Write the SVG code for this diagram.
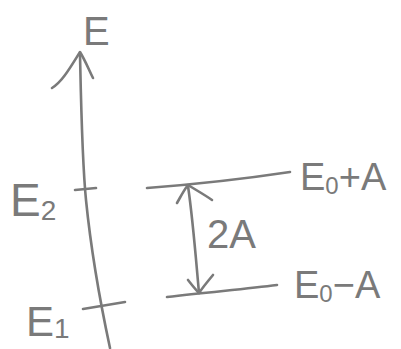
<svg xmlns="http://www.w3.org/2000/svg" width="401" height="349" viewBox="0 0 401 349">
<style>
.ln{fill:none;stroke:#7a7a7a;stroke-width:2.6;stroke-linecap:round;stroke-linejoin:round}
.tx{font-family:"Liberation Sans","DejaVu Sans",sans-serif;fill:#7a7a7a}
</style>
<rect width="401" height="349" fill="#ffffff"/>
<g id="axis">
<path class="ln" d="M110,348 C104,320 92,260 86,200 C82,160 81,100 80,54"/>
<path class="ln" d="M52,88 C62,82 70,68 80,52 C85,60 89,70 93,78"/>
<text class="tx" x="83" y="45" font-size="40">E</text>
</g>
<g id="E2">
<path class="ln" d="M75,190 L96,188"/>
<text class="tx" x="10" y="216" font-size="46">E<tspan font-size="28" dy="4">2</tspan></text>
</g>
<g id="E1">
<path class="ln" d="M83,309 L125,302"/>
<text class="tx" x="26" y="336" font-size="42">E<tspan font-size="28" dy="2">1</tspan></text>
</g>
<g id="upper">
<path class="ln" d="M147,188 C200,184 250,178 290,172"/>
<text class="tx" x="300" y="190" font-size="38">E<tspan font-size="24" dy="4">0</tspan><tspan dy="-4">+A</tspan></text>
</g>
<g id="lower">
<path class="ln" d="M167,297 C210,292 245,289 277,285"/>
<text class="tx" x="294" y="298" font-size="38">E<tspan font-size="24" dy="4">0</tspan><tspan dy="-4">−A</tspan></text>
</g>
<g id="connectors">
<path class="ln" d="M188,186 C193,220 196,260 199,293"/>
<path class="ln" d="M177,203 C181,196 184,190 188,185 C196,190 205,195 212,200"/>
<path class="ln" d="M188,280 C192,285 195,289 199,293 C203,287 208,281 213,275"/>
<text class="tx" x="207" y="248" font-size="40">2A</text>
</g>
</svg>
